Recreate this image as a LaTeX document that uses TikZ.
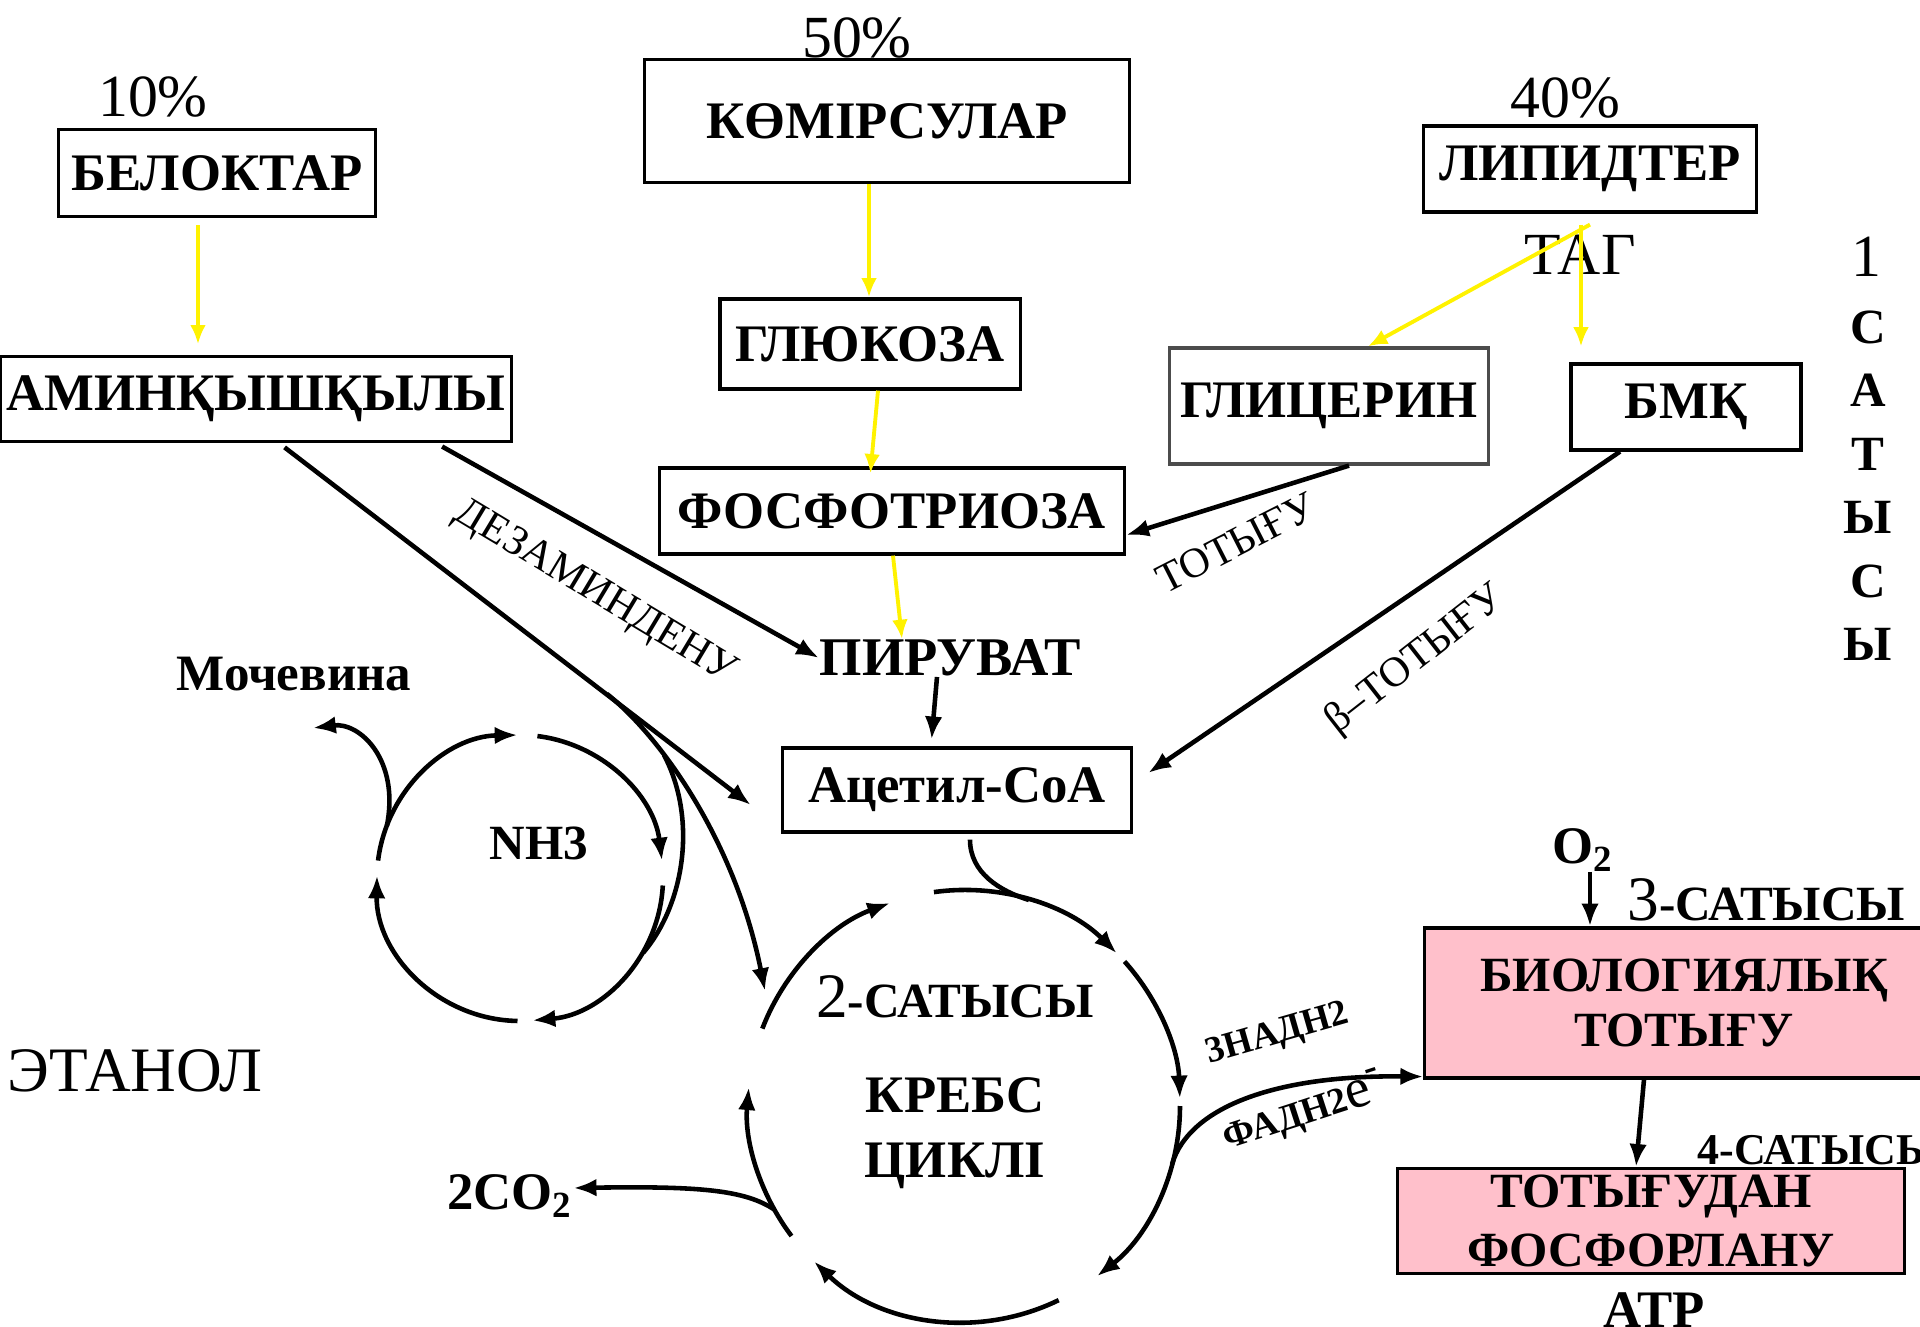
\documentclass[tikz,border=0pt]{standalone}
\usepackage{fontspec}
\setmainfont{Liberation Serif}
\usetikzlibrary{positioning}
\usetikzlibrary{arrows.meta}
\usetikzlibrary{calc}

\definecolor{qyzgylt}{RGB}{255,192,203}

\begin{document}
\begin{tikzpicture}[
        x=0.01cm, y=-0.01cm,
        every node/.style={inner sep=0pt},
        box/.style={draw, line width=0.9pt, font=\bfseries\fontsize{15}{18}\selectfont},
        qalyn/.style={font=\bfseries\fontsize{15}{18}\selectfont},
        jai/.style={font=\fontsize{17}{20}\selectfont},
        sary/.style={draw=yellow, line width=1.1pt, -{Latex[length=5.5pt,width=4.5pt]}},
        nusqa/.style={line width=1.3pt, -{Latex[length=6.5pt,width=5pt]}}
    ]

        % Сурет шекарасы
        \useasboundingbox (0,0) rectangle (1920,1327);

        % Бастапқы заттар
        \node[jai] (p10) at (153,97) {10\%};
        \node[jai] (p50) at (857,38) {50\%};
        \node[jai] (p40) at (1565,98) {40\%};
        \node[box, minimum width=3.16cm, minimum height=0.87cm] (belok) at (217,173) {БЕЛОКТАР};
        \node[box, minimum width=4.84cm, minimum height=1.23cm] (komir) at (887,121) {КӨМІРСУЛАР};
        \node[box, minimum width=3.32cm, minimum height=0.86cm] (lipid) at (1590,169) {ЛИПИДТЕР};
        \node[font=\fontsize{17}{20}\selectfont] (tag) at (1580,255) {ТАГ};

        % Аралық заттар
        \node[box, minimum width=5.10cm, minimum height=0.85cm] (amin) at (256,399) {АМИНҚЫШҚЫЛЫ};
        \node[box, minimum width=3.00cm, minimum height=0.90cm] (gluk) at (870,344) {ГЛЮКОЗА};
        \node[box, draw=black!70, minimum width=3.18cm, minimum height=1.16cm] (glic) at (1329,406) {ГЛИЦЕРИН};
        \node[box, minimum width=2.30cm, minimum height=0.86cm] (bmk) at (1686,407) {БМҚ};
        \node[box, minimum width=4.65cm, minimum height=0.86cm] (fosf) at (892,511) {ФОСФОТРИОЗА};
        \node[qalyn, font=\bfseries\fontsize{15.5}{18}\selectfont] (piruv) at (950,658) {ПИРУВАТ};
        \node[box, minimum width=3.49cm, minimum height=0.84cm] (acetil) at (957,790) {Ацетил-CoA};

        % 1 сатысы
        \node[font=\fontsize{17}{20}\selectfont] (s1) at (1866,257) {1};
        \node[qalyn, font=\bfseries\fontsize{14}{17}\selectfont] (s1a) at (1868,327) {С};
        \node[qalyn, font=\bfseries\fontsize{14}{17}\selectfont] (s1b) at (1868,390) {А};
        \node[qalyn, font=\bfseries\fontsize{14}{17}\selectfont] (s1c) at (1868,454) {Т};
        \node[qalyn, font=\bfseries\fontsize{14}{17}\selectfont] (s1d) at (1868,517) {Ы};
        \node[qalyn, font=\bfseries\fontsize{14}{17}\selectfont] (s1e) at (1868,581) {С};
        \node[qalyn, font=\bfseries\fontsize{14}{17}\selectfont] (s1f) at (1868,644) {Ы};

        % Мочевина циклі
        \node[qalyn, font=\bfseries\fontsize{14.5}{17}\selectfont] (moch) at (294,674) {Мочевина};
        \node[qalyn, font=\bfseries\fontsize{14}{17}\selectfont] (nh3) at (539,843) {NH3};
        \node[font=\fontsize{18}{21}\selectfont] (etanol) at (135,1071) {ЭТАНОЛ};

        % Кребс циклі
        \node[font=\fontsize{18}{21}\selectfont] (sat2) at (955,997) {2\textbf{\fontsize{14}{17}\selectfont -САТЫСЫ}};
        \node[qalyn, align=center, font=\bfseries\fontsize{15}{18.5}\selectfont] (krebs) at (955,1133) {КРЕБС\\ЦИКЛІ};
        \node[qalyn] (co2) at (510,1196) {2CO\textsubscript{2}};

        % Тотығу
        \node[qalyn] (o2) at (1583,850) {O\textsubscript{2}};
        \node[font=\fontsize{18}{21}\selectfont, anchor=west] (sat3) at (1627,900) {3\textbf{\fontsize{14}{17}\selectfont -САТЫСЫ}};
        \node[box, fill=qyzgylt, align=center, minimum width=4.98cm, minimum height=1.50cm,
              font=\bfseries\fontsize{14}{15.5}\selectfont] (biol) at (1674,1003) {\hspace*{0.2cm}БИОЛОГИЯЛЫҚ\\\hspace*{0.2cm}ТОТЫҒУ};
        \node[qalyn, anchor=west, font=\bfseries\fontsize{12.5}{14}\selectfont] (sat4) at (1697,1150) {4-САТЫСЫ};
        \node[box, fill=qyzgylt, align=center, minimum width=5.06cm, minimum height=1.05cm,
              font=\bfseries\fontsize{14}{16.7}\selectfont] (fosfor) at (1651,1221) {ТОТЫҒУДАН\\ФОСФОРЛАНУ};
        \node[qalyn] (atp) at (1654,1310) {АТР};

        % Көлбеу жазулар
        \node[font=\fontsize{12}{14}\selectfont, rotate=-31] (dezam) at (595,593) {ДЕЗАМИНДЕНУ};
        \node[font=\fontsize{12}{14}\selectfont, rotate=27] (totyg) at (1236,543) {ТОТЫҒУ};
        \node[font=\fontsize{12}{14}\selectfont, rotate=38] (beta) at (1416,660) {β–ТОТЫҒУ};
        \node[font=\bfseries\fontsize{10.5}{12}\selectfont, rotate=16] (nadh) at (1278,1035) {3НАДН2};
        \node[font=\bfseries\fontsize{10.5}{12}\selectfont, rotate=18] (fadh) at (1304,1112)
            {ФАДН2{\mdseries\fontsize{16}{18}\selectfont e\textsuperscript{\textbf{-}}}};

        % Нүктелер
        \coordinate (kc) at (964,1106);
        \coordinate (nc) at (520,878);
        \coordinate (tagb) at ($(lipid.south)+(0,11)$);
        \coordinate (tarmaq) at (607,694);
        \coordinate (tarmaq2) at (664,755);
        \coordinate (krebskiru) at (765,991);
        \coordinate (nhkiru) at (643,953);
        \coordinate (acetilkiru) at ($(kc)+(-72.5:216)$);
        \coordinate (mochbas) at ($(nc)+(-158.6:143)$);
        \coordinate (mochush) at (313,728);
        \coordinate (co2bas) at ($(kc)+(151.3:216)$);
        \coordinate (fadhbas) at ($(kc)+(15.6:216)$);

        % Сары бағыттар
        \draw[sary, shorten <=2pt, shorten >=3pt] (belok.south -| 198,0) -- (amin.north -| 198,0);
        \draw[sary] (komir.south -| 869,0) -- (gluk.north -| 869,0);
        \draw[sary, shorten >=-2pt] (gluk.south -| 878,0) -- (fosf.north -| 871,0);
        \draw[sary] (fosf.south -| 893,0) -- (piruv.north -| 902,0);
        \draw[sary] (tagb) -- (glic.north -| 1368,0);
        \draw[sary, shorten >=4.5pt] (tagb -| 1581,0) -- (bmk.north -| 1581,0);

        % Қара бағыттар
        \draw[nusqa, shorten <=2pt] (amin.south -| 436,0) -- (piruv.west);
        \draw[nusqa, shorten <=2pt] (amin.south -| 279,0) -- ($(acetil.west)+(-30,15)$);
        \draw[nusqa] (glic.south -| 1349,0) -- (fosf.east |- 0,535);
        \draw[nusqa] (bmk.south -| 1620,0) -- ($(acetil.east)+(15,-17)$);
        \draw[nusqa, shorten >=2pt] (piruv.south -| 937,0) -- (acetil.north -| 931,0);
        \draw[nusqa] (tarmaq) .. controls (660,736) and (735,840) .. (krebskiru);
        \draw[line width=1.3pt] (tarmaq2) .. controls (698,820) and (684,905) .. (nhkiru);
        \draw[line width=1.3pt] ($(acetil.south)+(13,6)$) .. controls (970,873) and (1000,891) .. (acetilkiru);

        % Кребс циклі доғалары
        \draw[nusqa] ($(kc)+(-98:216)$) arc[start angle=-98, end angle=-45, radius=216];
        \draw[nusqa] ($(kc)+(-42:216)$) arc[start angle=-42, end angle=-2, radius=216];
        \draw[nusqa] ($(kc)+(0:216)$) arc[start angle=0, end angle=52, radius=216];
        \draw[nusqa] ($(kc)+(64:216)$) arc[start angle=64, end angle=134, radius=216];
        \draw[nusqa] ($(kc)+(143:216)$) arc[start angle=143, end angle=185, radius=216];
        \draw[nusqa] ($(kc)+(201:216)$) arc[start angle=201, end angle=250, radius=216];

        % Мочевина циклі доғалары
        \draw[nusqa] ($(nc)+(-173:143)$) arc[start angle=-173, end angle=-91, radius=143];
        \draw[nusqa] ($(nc)+(-83:143)$) arc[start angle=-83, end angle=-7, radius=143];
        \draw[nusqa] ($(nc)+(3:143)$) arc[start angle=3, end angle=85, radius=143];
        \draw[nusqa] ($(nc)+(91:143)$) arc[start angle=91, end angle=181, radius=143];

        % Шығатын заттар
        \draw[nusqa] (mochbas) .. controls (400,760) and (360,722) .. (mochush);
        \draw[nusqa] (co2bas) .. controls (745,1190) and (700,1186) .. ($(co2.east)+(0,-8)$);
        \draw[nusqa] (fadhbas) .. controls (1190,1105) and (1280,1075) .. ($(biol.south west)+(0,-3)$);
        \draw[nusqa] (o2.south -| 1590,0) -- (biol.north -| 1590,0);
        \draw[nusqa] (biol.south -| 1644,0) -- (fosfor.north -| 1636,0);

    \end{tikzpicture}
\end{document}
